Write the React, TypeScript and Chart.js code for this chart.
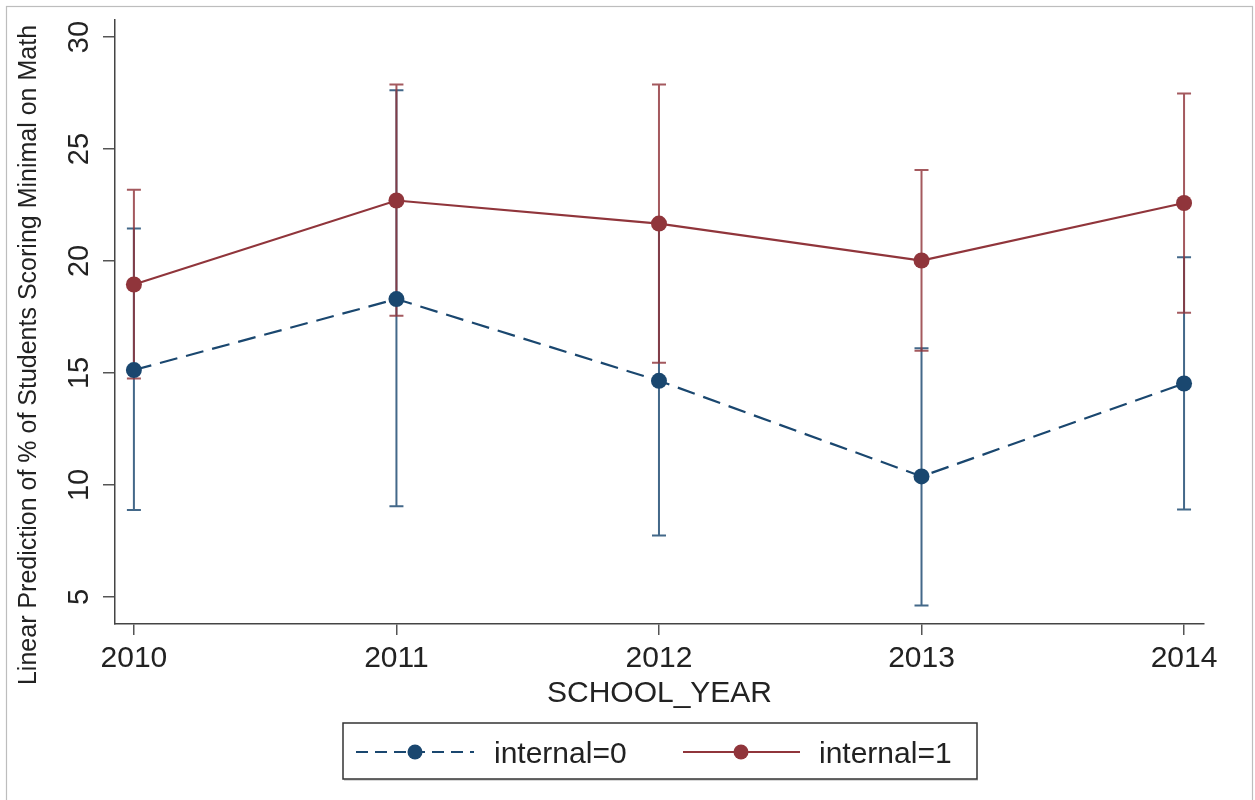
import React, { useEffect, useRef } from "react";
import { Chart, registerables } from "chart.js";

Chart.register(...registerables);

// ---- data ----
const YEARS = [2010, 2011, 2012, 2013, 2014];
const Y_TICKS = [5, 10, 15, 20, 25, 30];

const SERIES_LABELS = ["internal=0", "internal=1"];
const EST_0 = [15.13, 18.3, 14.65, 10.38, 14.53];
const LO_0 = [8.88, 9.05, 7.74, 4.62, 8.9];
const HI_0 = [21.45, 27.62, 21.6, 16.1, 20.17];
const EST_1 = [18.95, 22.7, 21.67, 20.02, 22.59];
const LO_1 = [14.75, 17.55, 15.45, 15.99, 17.69];
const HI_1 = [23.18, 27.88, 27.88, 24.06, 27.48];

const X_TITLE = "SCHOOL_YEAR";
const Y_TITLE = "Linear Prediction of % of Students Scoring Minimal on Math";

const BLUE = "#1a476f";
const RED = "#90353b";
const BLUE_CI = "rgba(26,71,111,0.82)";
const RED_CI = "rgba(144,53,59,0.82)";
const FONT = "'Liberation Sans', Arial, Helvetica, sans-serif";
const TEXT = "#222222";

const LOWS = [LO_0, LO_1];
const HIGHS = [HI_0, HI_1];
const CI_COLORS = [BLUE_CI, RED_CI];

const errorBars = {
  id: "errorBars",
  beforeDatasetsDraw(chart: any) {
    const { ctx } = chart;
    const xs = chart.scales.x;
    const ys = chart.scales.y;
    ctx.save();
    ctx.lineWidth = 2;
    for (let d = 0; d < 2; d++) {
      ctx.strokeStyle = CI_COLORS[d];
      YEARS.forEach((yr, i) => {
        const x = xs.getPixelForValue(yr);
        const y1 = ys.getPixelForValue(LOWS[d][i]);
        const y2 = ys.getPixelForValue(HIGHS[d][i]);
        ctx.beginPath();
        ctx.moveTo(x, y1);
        ctx.lineTo(x, y2);
        ctx.moveTo(x - 7, y1);
        ctx.lineTo(x + 7, y1);
        ctx.moveTo(x - 7, y2);
        ctx.lineTo(x + 7, y2);
        ctx.stroke();
      });
    }
    ctx.restore();
  },
};

const decorations = {
  id: "decorations",
  afterDraw(chart: any) {
    const { ctx, chartArea } = chart;
    const xs = chart.scales.x;
    const ys = chart.scales.y;
    ctx.save();
    // outer frame
    ctx.strokeStyle = "#bdbdbd";
    ctx.lineWidth = 1.2;
    ctx.strokeRect(6.5, 6.5, 1246, 800);

    ctx.fillStyle = TEXT;
    // x tick labels
    ctx.font = `30px ${FONT}`;
    ctx.textAlign = "center";
    ctx.textBaseline = "alphabetic";
    xs.ticks.forEach((t: any) => {
      ctx.fillText(String(t.value), xs.getPixelForValue(t.value), 667);
    });
    // y tick labels (rotated)
    ctx.font = `29px ${FONT}`;
    ys.ticks.forEach((t: any) => {
      const y = ys.getPixelForValue(t.value);
      ctx.save();
      ctx.translate(88, y);
      ctx.rotate(-Math.PI / 2);
      ctx.textAlign = "center";
      ctx.fillText(String(t.value), 0, 0);
      ctx.restore();
    });
    // x title
    ctx.font = `30px ${FONT}`;
    ctx.textAlign = "center";
    ctx.fillText(X_TITLE, (chartArea.left + chartArea.right) / 2, 702);
    // y title
    ctx.save();
    ctx.translate(36, 355);
    ctx.rotate(-Math.PI / 2);
    ctx.font = `25px ${FONT}`;
    ctx.textAlign = "center";
    ctx.fillText(Y_TITLE, 0, 0);
    ctx.restore();

    // legend box
    ctx.fillStyle = "#d8d8d8";
    ctx.fillRect(344, 779, 634, 2);
    ctx.fillStyle = "#ffffff";
    ctx.fillRect(343, 723, 634, 56);
    ctx.strokeStyle = "#333333";
    ctx.lineWidth = 1.5;
    ctx.strokeRect(343, 723, 634, 56);

    const ly = 752;
    const samples = [
      { x1: 356, x2: 474, cx: 415, color: BLUE, dash: [12, 7], tx: 494 },
      { x1: 683, x2: 800, cx: 741, color: RED, dash: [], tx: 819 },
    ];
    samples.forEach((s, i) => {
      ctx.strokeStyle = s.color;
      ctx.lineWidth = 2;
      ctx.setLineDash(s.dash);
      ctx.beginPath();
      ctx.moveTo(s.x1, ly);
      ctx.lineTo(s.x2, ly);
      ctx.stroke();
      ctx.setLineDash([]);
      ctx.fillStyle = s.color;
      ctx.beginPath();
      ctx.arc(s.cx, ly, 7.5, 0, Math.PI * 2);
      ctx.fill();
      ctx.fillStyle = TEXT;
      ctx.font = `30px ${FONT}`;
      ctx.textAlign = "left";
      ctx.fillText(SERIES_LABELS[i], s.tx, 763);
    });
    ctx.restore();
  },
};

export default function App() {
  const ref = useRef<HTMLCanvasElement | null>(null);

  useEffect(() => {
    document.body.style.margin = "0";
    const canvas = ref.current;
    if (!canvas) return;
    const chart = new Chart(canvas, {
      type: "line",
      data: {
        datasets: [
          {
            label: SERIES_LABELS[0],
            data: YEARS.map((x, i) => ({ x, y: EST_0[i] })),
            borderColor: BLUE,
            backgroundColor: BLUE,
            borderWidth: 2.2,
            borderDash: [18, 9],
            pointRadius: 8,
            pointBorderWidth: 0,
            pointBackgroundColor: BLUE,
            tension: 0,
            order: 2,
          },
          {
            label: SERIES_LABELS[1],
            data: YEARS.map((x, i) => ({ x, y: EST_1[i] })),
            borderColor: RED,
            backgroundColor: RED,
            borderWidth: 2.2,
            pointRadius: 8,
            pointBorderWidth: 0,
            pointBackgroundColor: RED,
            tension: 0,
            order: 1,
          },
        ],
      },
      options: {
        responsive: false,
        animation: false,
        devicePixelRatio: 1,
        layout: { padding: { top: 20, right: 51, left: 0, bottom: 0 } },
        plugins: { legend: { display: false }, tooltip: { enabled: false } },
        scales: {
          x: {
            type: "linear",
            min: 2009.928,
            max: 2014.076,
            afterBuildTicks: (s: any) => {
              s.ticks = YEARS.map((v) => ({ value: v }));
            },
            afterFit: (s: any) => {
              s.height = 176;
            },
            grid: {
              drawOnChartArea: false,
              drawTicks: true,
              tickLength: 11,
              color: "#555555",
              lineWidth: 1.5,
            },
            border: { display: true, color: "#444444", width: 1.5 },
            ticks: { display: false },
          },
          y: {
            type: "linear",
            min: 3.79,
            max: 30.76,
            afterBuildTicks: (s: any) => {
              s.ticks = Y_TICKS.map((v) => ({ value: v }));
            },
            afterFit: (s: any) => {
              s.width = 115;
            },
            grid: {
              drawOnChartArea: false,
              drawTicks: true,
              tickLength: 12,
              color: "#555555",
              lineWidth: 1.5,
            },
            border: { display: true, color: "#444444", width: 1.5 },
            ticks: { display: false },
          },
        },
      },
      plugins: [errorBars, decorations],
    });
    return () => chart.destroy();
  }, []);

  return (
    <div style={{ width: 1255, height: 800, background: "#ffffff" }}>
      <canvas ref={ref} width={1255} height={800} style={{ display: "block" }} />
    </div>
  );
}
